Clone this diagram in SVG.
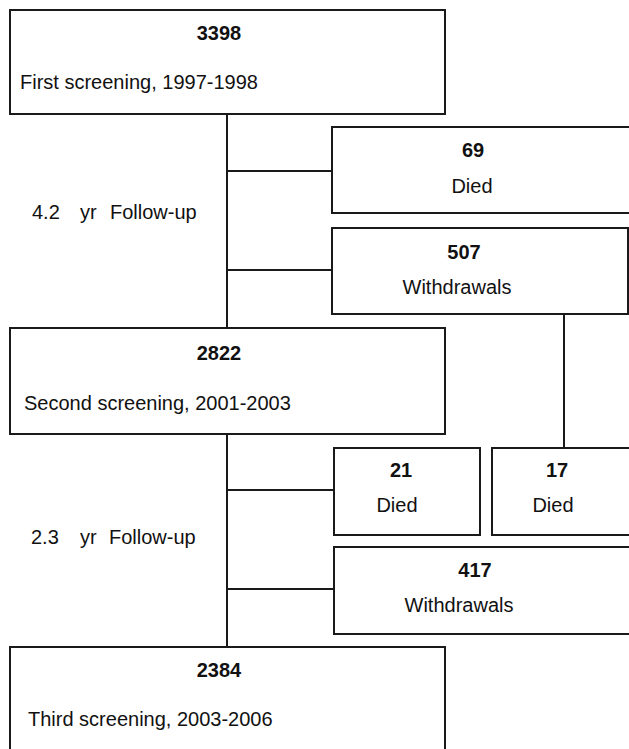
<svg xmlns="http://www.w3.org/2000/svg" width="629" height="749" viewBox="0 0 629 749">
<style>
.box{fill:#fff;stroke:#1a1a1a;stroke-width:2}
.ln{stroke:#1a1a1a;stroke-width:2;fill:none}
text{font-family:"Liberation Sans",Arial,sans-serif;font-size:20px;fill:#111}
.n{font-weight:bold;text-anchor:middle}
.c{text-anchor:middle}
</style>
<rect width="629" height="749" fill="#fff"/>
<g id="connectors">
<line class="ln" x1="227" y1="114" x2="227" y2="328"/>
<line class="ln" x1="227" y1="171" x2="332" y2="171"/>
<line class="ln" x1="227" y1="270" x2="332" y2="270"/>
<line class="ln" x1="227" y1="434" x2="227" y2="647"/>
<line class="ln" x1="227" y1="490" x2="334" y2="490"/>
<line class="ln" x1="227" y1="589" x2="334" y2="589"/>
<line class="ln" x1="564" y1="314" x2="564" y2="448"/>
</g>
<g id="first">
<rect class="box" x="10" y="10" width="435" height="104"/>
<text class="n" x="219" y="40">3398</text>
<text x="20" y="89">First screening, 1997-1998</text>
</g>
<g id="died1">
<rect class="box" x="332" y="127" width="300" height="86"/>
<text class="n" x="473" y="157">69</text>
<text class="c" x="472" y="193">Died</text>
</g>
<g id="withdraw1">
<rect class="box" x="332" y="228" width="296" height="86"/>
<text class="n" x="464" y="259">507</text>
<text class="c" x="457" y="294">Withdrawals</text>
</g>
<g id="followup1">
<text x="32" y="219">4.2</text>
<text x="80" y="219">yr</text>
<text x="110" y="219">Follow-up</text>
</g>
<g id="second">
<rect class="box" x="10" y="328" width="435" height="106"/>
<text class="n" x="219" y="360">2822</text>
<text x="24" y="410">Second screening, 2001-2003</text>
</g>
<g id="died2">
<rect class="box" x="334" y="448" width="146" height="87"/>
<text class="n" x="401" y="477">21</text>
<text class="c" x="397" y="512">Died</text>
</g>
<g id="died3">
<rect class="box" x="492" y="448" width="140" height="87"/>
<text class="n" x="557" y="477">17</text>
<text class="c" x="553" y="512">Died</text>
</g>
<g id="followup2">
<text x="31" y="544">2.3</text>
<text x="80" y="544">yr</text>
<text x="109" y="544">Follow-up</text>
</g>
<g id="withdraw2">
<rect class="box" x="334" y="547" width="298" height="87"/>
<text class="n" x="475" y="577">417</text>
<text class="c" x="459" y="612">Withdrawals</text>
</g>
<g id="third">
<rect class="box" x="10" y="647" width="435" height="110"/>
<text class="n" x="219" y="677">2384</text>
<text x="28" y="726">Third screening, 2003-2006</text>
</g>
</svg>
